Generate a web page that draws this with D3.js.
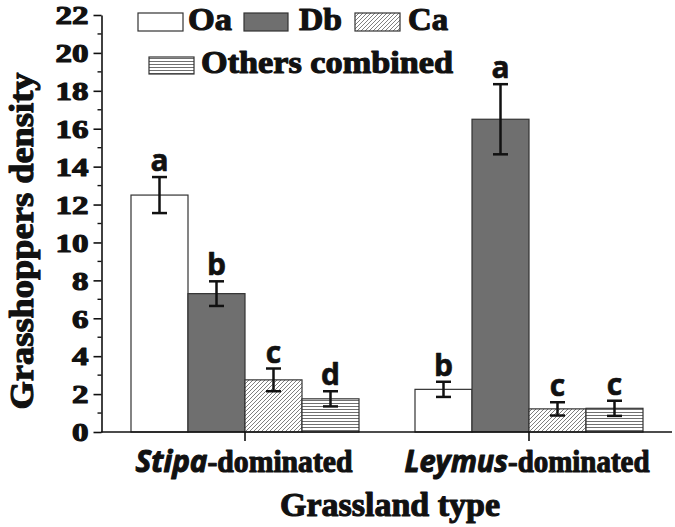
<!DOCTYPE html>
<html>
<head>
<meta charset="utf-8">
<script src="https://cdn.jsdelivr.net/npm/d3@7/dist/d3.min.js"></script>
<style>
  html, body { margin: 0; padding: 0; background: #fff; }
  svg { display: block; }
  .heavy { stroke: #111; stroke-width: 1.1px; paint-order: stroke fill; stroke-linejoin: round; }
  .heavy2 { stroke: #111; stroke-width: 0.6px; paint-order: stroke fill; stroke-linejoin: round; }
</style>
</head>
<body>
<svg id="chart" width="675" height="527"></svg>
<script>
// ---- data ----
const categories = ["Stipa", "Leymus"];
const categorySuffix = "-dominated";
const series = ["Oa", "Db", "Ca", "Others combined"];
const stipaValues = [12.5, 7.3, 2.75, 1.75];
const stipaErrors = [0.95, 0.65, 0.6, 0.4];
const stipaLetters = ["a", "b", "c", "d"];
const leymusValues = [2.25, 16.5, 1.22, 1.25];
const leymusErrors = [0.4, 1.85, 0.35, 0.4];
const leymusLetters = ["b", "a", "c", "c"];
const yTicks = [0, 2, 4, 6, 8, 10, 12, 14, 16, 18, 20, 22];
const yMinorTicks = [1, 3, 5, 7, 9, 11, 13, 15, 17, 19, 21];
const yTitle = "Grasshoppers density";
const xTitle = "Grassland type";

const rows = [
  { cat: categories[0], values: stipaValues, errors: stipaErrors, letters: stipaLetters },
  { cat: categories[1], values: leymusValues, errors: leymusErrors, letters: leymusLetters }
];

// ---- layout ----
const svg = d3.select("#chart");
const SERIF = "Liberation Serif, Times New Roman, serif";
const SANS = "Open Sans, Noto Sans, Arial, sans-serif";

const y = d3.scaleLinear().domain([0, 22]).range([432, 15]);
const x = d3.scaleBand().domain(categories).range([103, 671]).padding(0);
const xs = d3.scaleBand().domain(series).range([-114, 114]).padding(0);

const fills = { "Oa": "#ffffff", "Db": "#6f6f6f", "Ca": "url(#diag)", "Others combined": "url(#horiz)" };

// patterns
const defs = svg.append("defs");
const pd = defs.append("pattern").attr("id", "diag").attr("patternUnits", "userSpaceOnUse")
  .attr("width", 4).attr("height", 4);
pd.append("rect").attr("width", 4).attr("height", 4).attr("fill", "#fff");
pd.append("path").attr("d", "M-1,1 l2,-2 M0,4 l4,-4 M3,5 l2,-2")
  .attr("stroke", "#707070").attr("stroke-width", 0.9);
const ph = defs.append("pattern").attr("id", "horiz").attr("patternUnits", "userSpaceOnUse")
  .attr("width", 4).attr("height", 3);
ph.append("rect").attr("width", 4).attr("height", 3).attr("fill", "#fff");
ph.append("line").attr("x1", 0).attr("x2", 4).attr("y1", 1.5).attr("y2", 1.5)
  .attr("stroke", "#707070").attr("stroke-width", 1);

function fit(sel, w) {
  sel.attr("textLength", w).attr("lengthAdjust", "spacingAndGlyphs");
  return sel;
}

// ---- bars ----
const groups = svg.append("g").selectAll("g").data(rows).join("g")
  .attr("transform", d => `translate(${x(d.cat) + x.bandwidth() / 2},0)`);

const items = d => series.map((s, i) => ({ s, v: d.values[i], e: d.errors[i], l: d.letters[i] }));

groups.selectAll("rect.bar").data(items)
  .join("rect").attr("class", "bar")
  .attr("x", d => xs(d.s))
  .attr("width", xs.bandwidth())
  .attr("y", d => y(d.v))
  .attr("height", d => y(0) - y(d.v))
  .attr("fill", d => fills[d.s])
  .attr("stroke", "#333")
  .attr("stroke-width", 1.2);

// error bars
const eb = groups.selectAll("g.err").data(items)
  .join("g").attr("class", "err")
  .attr("transform", d => `translate(${xs(d.s) + xs.bandwidth() / 2},0)`);
eb.append("line").attr("x1", 0).attr("x2", 0)
  .attr("y1", d => y(d.v + d.e)).attr("y2", d => y(d.v - d.e))
  .attr("stroke", "#111").attr("stroke-width", 2.5);
eb.append("line").attr("x1", -7.5).attr("x2", 7.5)
  .attr("y1", d => y(d.v + d.e)).attr("y2", d => y(d.v + d.e))
  .attr("stroke", "#111").attr("stroke-width", 2.5);
eb.append("line").attr("x1", -7.5).attr("x2", 7.5)
  .attr("y1", d => y(d.v - d.e)).attr("y2", d => y(d.v - d.e))
  .attr("stroke", "#111").attr("stroke-width", 2.5);
eb.append("text")
  .attr("x", 0).attr("y", d => y(d.v + d.e) - 6)
  .attr("text-anchor", "middle")
  .attr("class", "heavy2")
  .attr("font-family", SANS).attr("font-weight", "bold").attr("font-size", 30)
  .attr("fill", "#111")
  .text(d => d.l);

// ---- y axis ----
const yAxis = svg.append("g").attr("transform", "translate(101.5,0)")
  .call(d3.axisLeft(y).tickValues(yTicks).tickSize(8).tickSizeOuter(0).tickFormat(d3.format("d")));
yAxis.attr("font-family", SERIF);
yAxis.select(".domain").attr("stroke", "#111").attr("stroke-width", 1.6);
yAxis.selectAll(".tick line").attr("stroke", "#111").attr("stroke-width", 1.6);
yAxis.selectAll(".tick text")
  .attr("x", -13).attr("dy", "0.35em")
  .attr("class", "heavy")
  .attr("font-family", SERIF).attr("font-weight", "bold").attr("font-size", 25)
  .attr("fill", "#111")
  .each(function (d) { fit(d3.select(this), String(d).length * 16.5); });
svg.append("g").attr("transform", "translate(101.5,0)")
  .selectAll("line").data(yMinorTicks).join("line")
  .attr("x1", -4).attr("x2", 0)
  .attr("y1", d => y(d)).attr("y2", d => y(d))
  .attr("stroke", "#111").attr("stroke-width", 1.4);

// ---- x axis ----
svg.append("line").attr("x1", 101).attr("x2", 672).attr("y1", y(0)).attr("y2", y(0))
  .attr("stroke", "#111").attr("stroke-width", 1.6);
const xAxis = svg.append("g").attr("transform", `translate(0,${y(0)})`)
  .call(d3.axisBottom(x).tickSize(9).tickSizeOuter(0).tickFormat(""));
xAxis.select(".domain").remove();
xAxis.selectAll(".tick line").attr("stroke", "#111").attr("stroke-width", 1.6);

const catWidths = { "Stipa": 217, "Leymus": 245 };
const catLabels = svg.append("g").selectAll("text").data(categories).join("text")
  .attr("x", d => x(d) + x.bandwidth() / 2 + (d === "Leymus" ? -2 : -1))
  .attr("y", 472)
  .attr("text-anchor", "middle")
  .attr("fill", "#111")
  .attr("class", "heavy")
  .attr("font-size", 31);
catLabels.append("tspan").attr("font-family", SANS).attr("font-weight", "bold").attr("font-style", "italic")
  .text(d => d);
catLabels.append("tspan").attr("font-family", SERIF).attr("font-weight", "bold")
  .text(categorySuffix);
catLabels.each(function (d) { fit(d3.select(this), catWidths[d]); });

// ---- axis titles ----
fit(svg.append("text")
  .attr("transform", "translate(33,241) rotate(-90)")
  .attr("text-anchor", "middle")
  .attr("class", "heavy")
  .attr("font-family", SERIF).attr("font-weight", "bold").attr("font-size", 34)
  .attr("fill", "#111")
  .text(yTitle), 337);

fit(svg.append("text")
  .attr("x", 390).attr("y", 516)
  .attr("text-anchor", "middle")
  .attr("class", "heavy")
  .attr("font-family", SERIF).attr("font-weight", "bold").attr("font-size", 34)
  .attr("fill", "#111")
  .text(xTitle), 220);

// ---- legend ----
const legendItems = [
  { s: series[0], bx: 138, by: 13, bw: 45, bh: 18, tx: 188, ty: 30, tw: 44 },
  { s: series[1], bx: 244, by: 13, bw: 44, bh: 18, tx: 299, ty: 30, tw: 43 },
  { s: series[2], bx: 355, by: 13, bw: 45, bh: 18, tx: 408, ty: 30, tw: 40 },
  { s: series[3], bx: 149, by: 57, bw: 45, bh: 17, tx: 201, ty: 73, tw: 252 }
];
const lg = svg.append("g").selectAll("g").data(legendItems).join("g");
lg.append("rect")
  .attr("x", d => d.bx).attr("y", d => d.by).attr("width", d => d.bw).attr("height", d => d.bh)
  .attr("fill", d => fills[d.s]).attr("stroke", "#333").attr("stroke-width", 1.2);
lg.append("text")
  .attr("x", d => d.tx).attr("y", d => d.ty)
  .attr("class", "heavy")
  .attr("font-family", SERIF).attr("font-weight", "bold").attr("font-size", 31)
  .attr("fill", "#111")
  .text(d => d.s)
  .each(function (d) { fit(d3.select(this), d.tw); });
</script>
</body>
</html>
